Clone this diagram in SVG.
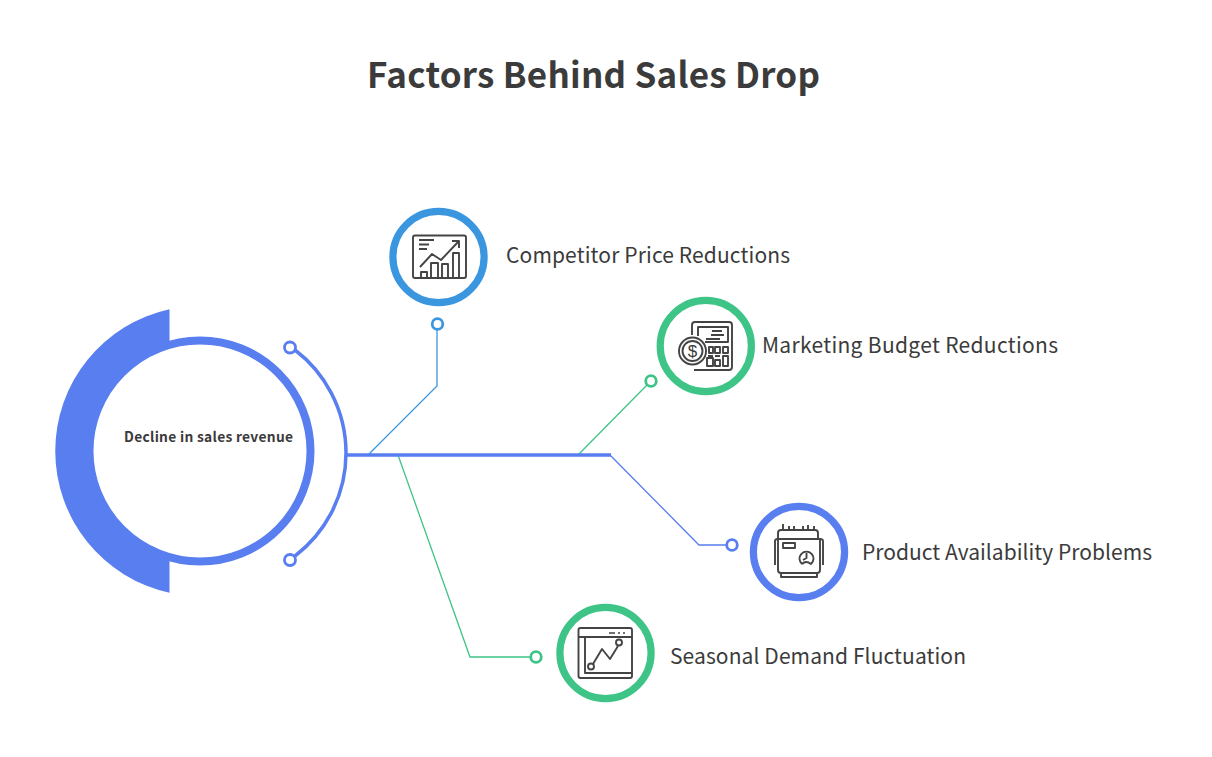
<svg xmlns="http://www.w3.org/2000/svg" width="1212" height="757" viewBox="0 0 1212 757">
<style>
text{font-family:"Noto Sans CJK SC","Noto Sans",sans-serif;fill:#3b3b3b}
.lab{font-size:21px}
.ic{fill:none;stroke:#444;stroke-width:1.9;stroke-linejoin:round}
.ring{fill:#fff;stroke-width:7.2}
.dot{fill:#fff;stroke-width:2.8}
.c{fill:none;stroke-width:1.3}
.b{stroke:#3b96e0}.g{stroke:#3fc487}.p{stroke:#587ef0}
</style>
<rect width="1212" height="757" fill="#fff"/>
<text x="367" y="88" textLength="453" style="font-size:35px;font-weight:700">Factors Behind Sales Drop</text>
<g id="connectors">
<path class="c b" d="M368 455L437 386V329"/>
<path class="c g" d="M578 455L647 385"/>
<path class="c p" d="M610 455L699 545H727"/>
<path class="c g" d="M398 455L470 657H531"/>
<path d="M346 455H611" fill="none" stroke="#587ef0" stroke-width="3.5"/>
<path d="M295 350A129.5 129.5 0 0 1 295 556" fill="none" stroke="#587ef0" stroke-width="3.5"/>
<circle class="dot p" cx="290" cy="347.5" r="5.5"/>
<circle class="dot p" cx="290" cy="560" r="5.5"/>
<circle class="dot b" cx="437.500" cy="324" r="5.300"/>
<circle class="dot g" cx="651" cy="381" r="5.300"/>
<circle class="dot p" cx="732" cy="545" r="5.300"/>
<circle class="dot g" cx="536" cy="657" r="5.300"/>
</g>
<g id="center">
<path d="M169.500 309.300A145 145 0 0 0 169.500 592.700Z" fill="#587ef0"/>
<circle cx="200" cy="451" r="110.500" fill="#fff" stroke="#587ef0" stroke-width="8"/>
<text x="124" y="442" textLength="169" style="font-size:13.8px;font-weight:700">Decline in sales revenue</text>
</g>
<g id="node-competitor">
<circle class="ring b" cx="438.500" cy="257" r="45.600"/>
<rect class="ic" x="413" y="235.500" width="53" height="42.500" rx="2"/>
<path class="ic" d="M419 240H434M419 244.500H429M419 249H427M420 267L432 254L441 260L458 242M452 241H459V248M421 278V272H427V278M431 278V263H438V278M442 278V264H448V278M453 278V253H459V278"/>
<text class="lab" x="506" y="263" textLength="284">Competitor Price Reductions</text>
</g>
<g id="node-marketing">
<circle class="ring g" cx="705.800" cy="346" r="45.600"/>
<path class="ic" d="M692 335V325Q692 322 695 322H729Q732 322 732 325V367Q732 370 729 370H694"/>
<path class="ic" d="M698 336V327H728V342H705M722 331H712M724 335H711M720 339H706M709 347H713V353H709ZM715 347H720V353H715ZM723 347H728V353H723ZM707 358H713V366H707ZM715 360H720V366H715ZM723 356H728V366H723ZM708 356H713M715 356H720"/>
<circle class="ic" cx="692.500" cy="351" r="13.500"/>
<circle class="ic" cx="692.500" cy="351" r="10"/>
<text x="692.500" y="357" text-anchor="middle" style="font-size:17px;font-family:'Liberation Sans',sans-serif">$</text>
<text class="lab" x="762" y="353" textLength="296">Marketing Budget Reductions</text>
</g>
<g id="node-availability">
<circle class="ring p" cx="799" cy="552" r="45.600"/>
<path class="ic" d="M778 539V533Q778 530 781 530H815Q818 530 818 533V539M783 530V524M789 530V526M794 530V526M803 530V526M808 530V525M814 530V526"/>
<path class="ic" d="M778 539H820V570Q820 573 817 573H781Q778 573 778 570ZM775 565V541Q775 539 778 539M823 565V541Q823 539 820 539M781 573V577H817V573"/>
<rect class="ic" x="783" y="543" width="12" height="5"/>
<path class="ic" d="M802 564A7 7 0 1 1 811 564Q806 560 802 564M806.500 553V558L803 560"/>
<text class="lab" x="862" y="560" textLength="290">Product Availability Problems</text>
</g>
<g id="node-seasonal">
<circle class="ring g" cx="605.500" cy="653" r="45.600"/>
<rect class="ic" x="578.500" y="628" width="53.500" height="50" rx="2"/>
<path class="ic" d="M578.500 637H632M585 637V673H632"/>
<path d="M609 633H615M618 633H620M623 633H625" stroke="#444" stroke-width="1.6"/>
<path class="ic" d="M593 664L602 649L610 659L618 646"/>
<circle class="ic" cx="591" cy="666.500" r="3"/>
<circle class="ic" cx="619" cy="642.500" r="3"/>
<text class="lab" x="670" y="664" textLength="296">Seasonal Demand Fluctuation</text>
</g>
</svg>
